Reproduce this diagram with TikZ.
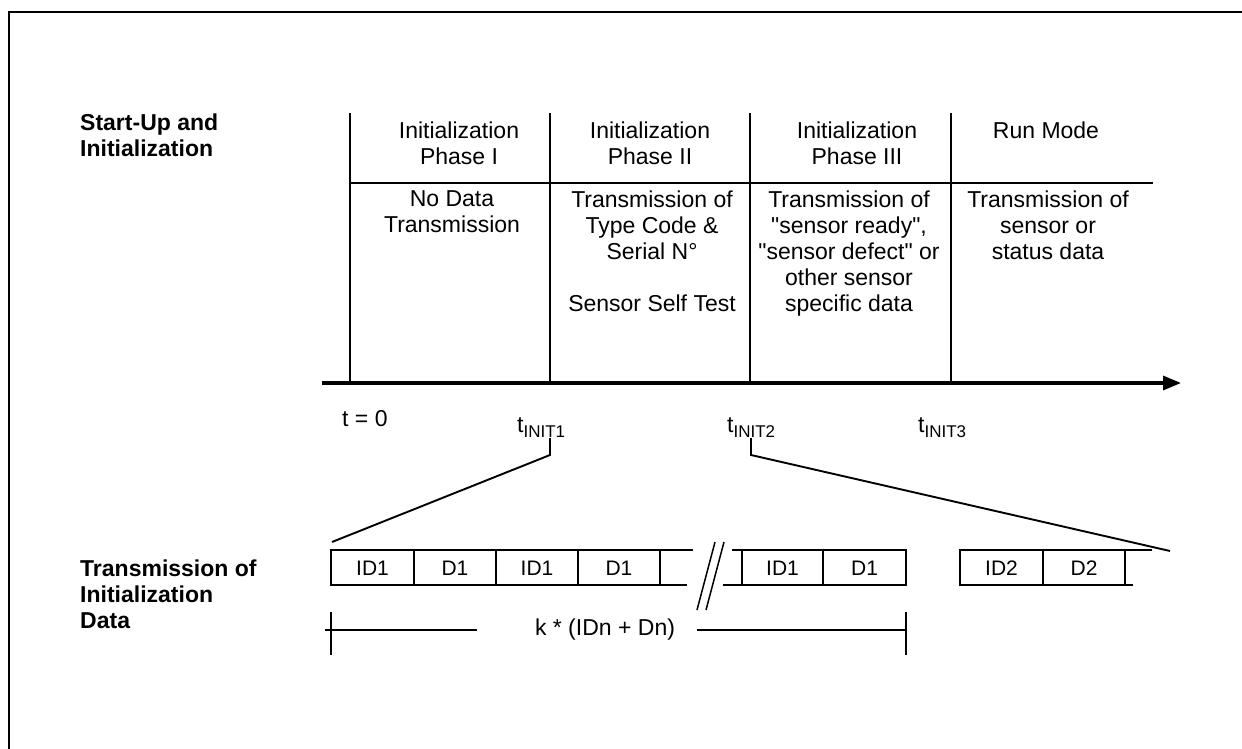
\documentclass[tikz,border=0pt]{standalone}
\usepackage{fontspec}
\setmainfont{Liberation Sans}
\usetikzlibrary{arrows.meta}
\begin{document}
\begin{tikzpicture}[x=1pt,y=-1pt,
  txt/.style={font=\fontsize{23}{26}\selectfont, inner sep=0pt, align=center, anchor=north},
  lbl/.style={font=\fontsize{23}{26}\selectfont\bfseries, inner sep=0pt, align=left, anchor=north west},
  tlab/.style={font=\fontsize{23}{26}\selectfont, inner sep=0pt, anchor=base west},
  cell/.style={font=\fontsize{21}{24}\selectfont, inner sep=0pt},
  thinln/.style={line width=1.6pt},
  frameln/.style={line width=2pt},
  boxln/.style={line width=1.9pt},
  dimln/.style={line width=1.5pt},
  axisln/.style={line width=3.2pt, -{Triangle[length=18pt,width=14pt]}},
  line join=miter]
\useasboundingbox (0,0) rectangle (1242,749);
% outer frame (left and top only)
\draw[frameln] (9,749) -- (9,12) -- (1242,12);

% left labels
\node[lbl] (lab1) at (80,113.7) {Start-Up and\\Initialization};
\node[lbl] (lab2) at (80,559.7) {Transmission of\\Initialization\\Data};

% time axis and phase lines
\coordinate (ax0) at (322,383);
\coordinate (ax1) at (1181,383);
\foreach \x/\n in {350/a,550/b,750/c,951/d}{
  \coordinate (v\n top) at (\x,113);
  \coordinate (v\n bot) at (\x,383);
  \draw[thinln] (v\n top) -- (v\n bot);
}
\coordinate (hl0) at (350,183);
\coordinate (hl1) at (1153,183);
\draw[thinln] (hl0) -- (hl1);
\draw[axisln] (ax0) -- (ax1);

% header texts
\node[txt] (h1) at (459,121.7) {Initialization\\Phase I};
\node[txt] (h2) at (650,121.7) {Initialization\\Phase II};
\node[txt] (h3) at (857,121.7) {Initialization\\Phase III};
\node[txt] (h4) at (1046,121.7) {Run Mode};

% body texts
\node[txt] (b1) at (452,190.7) {No Data\\Transmission};
\node[txt] (b2) at (652,190.7) {Transmission of\\Type Code \&\\Serial N°\\[26pt]Sensor Self Test};
\node[txt] (b3) at (849,190.7) {Transmission of\\\textquotedbl sensor ready\textquotedbl,\\\textquotedbl sensor defect\textquotedbl{} or\\other sensor\\specific data};
\node[txt] (b4) at (1048,190.7) {Transmission of\\sensor or\\status data};

% time labels
\node[tlab] (t0) at (342,426) {t = 0};
\node[tlab] (ti1) at (517,432) {t\raisebox{-5pt}{\fontsize{17}{17}\selectfont INIT1}};
\node[tlab] (ti2) at (727,432) {t\raisebox{-5pt}{\fontsize{17}{17}\selectfont INIT2}};
\node[tlab] (ti3) at (918,432) {t\raisebox{-5pt}{\fontsize{17}{17}\selectfont INIT3}};

% zoom connectors
\coordinate (k1a) at (550,438);
\coordinate (k1b) at (550,455);
\coordinate (k1c) at (332,542);
\coordinate (k2a) at (751,438);
\coordinate (k2b) at (751,455);
\coordinate (k2c) at (1170,551);
\draw[boxln] (k1a) -- (k1b) -- (k1c);
\draw[boxln] (k2a) -- (k2b) -- (k2c);

% frame group 1
\draw[boxln] (693,550) -- (331,550) -- (331,585) -- (687,585);
\foreach \x in {414,496,578,660} \draw[boxln] (\x,550) -- (\x,585);
% break marks
\draw[dimln] (715,542) -- (697,610);
\draw[dimln] (724,542) -- (706,610);
% frame group 2
\draw[boxln] (732,550) -- (906,550) -- (906,585) -- (723,585);
\draw[boxln] (742,550) -- (742,585);
\draw[boxln] (823,550) -- (823,585);
% frame group 3
\draw[boxln] (1152,550) -- (960,550) -- (960,585) -- (1133,585);
\draw[boxln] (1043,550) -- (1043,585);
\draw[boxln] (1125,550) -- (1125,585);

% cell texts
\node[cell] (c1) at (372.5,568) {ID1};
\node[cell] (c2) at (455,568) {D1};
\node[cell] (c3) at (537,568) {ID1};
\node[cell] (c4) at (619,568) {D1};
\node[cell] (c5) at (782.5,568) {ID1};
\node[cell] (c6) at (864.5,568) {D1};
\node[cell] (c7) at (1001.5,568) {ID2};
\node[cell] (c8) at (1084,568) {D2};

% dimension
\node[font=\fontsize{23}{26}\selectfont, inner sep=0pt] (dim) at (605,630) {k * (IDn + Dn)};
\coordinate (dl0) at (325,630);
\coordinate (dl1) at (477,630);
\coordinate (dr0) at (697,630);
\coordinate (dr1) at (906,630);
\draw[dimln] (dl0) -- (dl1);
\draw[dimln] (dr0) -- (dr1);
\draw[dimln] (331,612) -- (331,655);
\draw[dimln] (906,612) -- (906,655);
\end{tikzpicture}
\end{document}
